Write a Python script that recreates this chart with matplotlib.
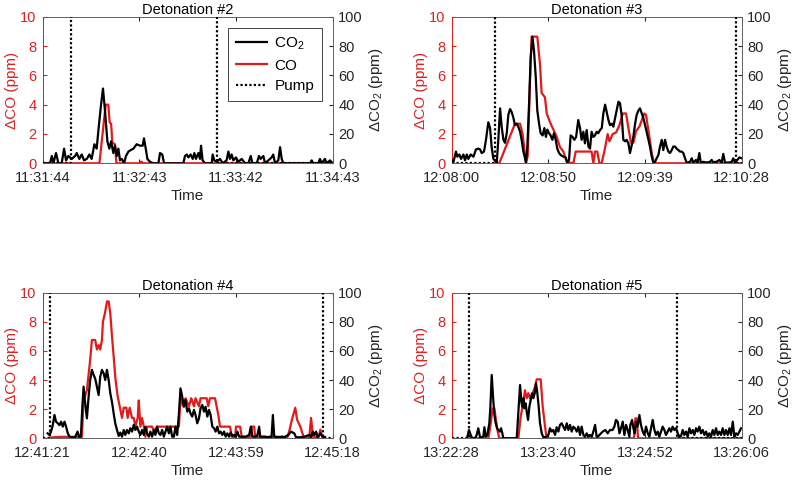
import matplotlib
matplotlib.use('Agg')
import matplotlib.pyplot as plt
from matplotlib.lines import Line2D

plt.rcParams['font.family'] = ['Liberation Sans', 'DejaVu Sans']
plt.rcParams['mathtext.fontset'] = 'custom'
plt.rcParams['mathtext.rm'] = 'Liberation Sans'
plt.rcParams['mathtext.it'] = 'Liberation Sans:italic'

# ---------------- data (time in seconds from window start) ----------------
titles = ['Detonation #2', 'Detonation #3', 'Detonation #4', 'Detonation #5']
durations = [179, 148, 237, 218]
tick_labels = [
    ['11:31:44', '11:32:43', '11:33:42', '11:34:43'],
    ['12:08:00', '12:08:50', '12:09:39', '12:10:28'],
    ['12:41:21', '12:42:40', '12:43:59', '12:45:18'],
    ['13:22:28', '13:23:40', '13:24:52', '13:26:06'],
]
pump_times = [(17.3, 107.6), (22.1, 144.9), (6.0, 228.8), (13.3, 169.2)]

det2_co2 = [(0, 0), (4.5, 0), (5.6, 5), (6.6, 0), (8.2, 7), (9.7, 0), (11.7, 0), (13.2, 10), (14.4, 2),
            (15.8, 5), (17.9, 3), (20.0, 5), (21.0, 7), (22.6, 3), (24.1, 6), (25.5, 2), (27.2, 3),
            (28.8, 6), (30.2, 3), (31.9, 13), (33.3, 10), (34.6, 25), (36.0, 40), (37.2, 51), (38.5, 35),
            (39.9, 15), (41.1, 10), (42.2, 15), (43.6, 7), (44.6, 12), (45.7, 5), (46.7, 10), (47.7, 2),
            (48.8, 3), (50.2, 0), (51.4, 5), (52.9, 8), (54.3, 9), (56.0, 10), (58.0, 13), (60.1, 12),
            (61.7, 12), (62.5, 17), (63.6, 10), (64.6, 3), (66.2, 1), (68.3, 0), (71.4, 0), (72.4, 7),
            (73.8, 6), (74.9, 0), (86.8, 0), (87.8, 5), (88.9, 6), (89.9, 4), (91.3, 6), (92.6, 3),
            (93.6, 7), (94.6, 3), (96.1, 7), (97.1, 3), (97.7, 12), (98.7, 2), (100.2, 0), (104.3, 0),
            (104.9, 6), (105.9, 2), (107.4, 1), (109.4, 3), (111.1, 0), (113.5, 2), (114.6, 8), (115.6, 3),
            (116.6, 6), (117.7, 2), (119.3, 4), (120.7, 1), (122.8, 3), (124.9, 0), (126.9, 0), (128.4, 5),
            (129.4, 0), (132.1, 0), (133.5, 5), (134.5, 3), (136.2, 5), (137.2, 0), (140.3, 3), (141.3, 4),
            (142.3, 6), (143.4, 0), (145.4, 2), (146.5, 11), (147.5, 3), (148.5, 0), (165.0, 0), (166.0, 2),
            (167.0, 0), (170.1, 0), (171.1, 3), (172.2, 0), (174.2, 3), (175.3, 0), (177.3, 2), (179.0, 0)]
det2_co = [(0, 0), (35.0, 0), (37.9, 3.0), (38.9, 4.0), (40.5, 4.0), (41.3, 2.8), (42.2, 2.7), (43.0, 1.4),
           (44.6, 1.3), (45.5, 0), (60.1, 0), (60.5, 0.1), (61.3, 0.1), (61.7, 0), (179, 0)]

det3_co2 = [(0, 2.3), (0.9, 1), (2.2, 8), (2.9, 4.5), (3.9, 6), (4.8, 3), (6.0, 6), (6.8, 2), (7.7, 6),
            (8.5, 3), (9.7, 6), (11.1, 4.5), (12.4, 9.5), (13.6, 10), (14.5, 9.5), (15.3, 7), (16.5, 8),
            (17.5, 16), (18.7, 28), (19.6, 24), (20.4, 11), (21.3, 3), (22.1, 2), (23.0, 0.5), (23.8, 16),
            (24.7, 37.5), (25.5, 25), (26.4, 16), (27.2, 14), (28.1, 20.5), (28.9, 33), (29.8, 37),
            (30.6, 35), (31.5, 31), (32.3, 26), (33.2, 27), (34.0, 25), (34.9, 21.5), (35.7, 16), (36.6, 8),
            (37.9, 0.7), (38.6, 11), (39.5, 41), (40.3, 71.6), (41.2, 86.4), (42.0, 77), (42.9, 59),
            (43.7, 36), (44.6, 27), (45.4, 20.5), (46.4, 19), (47.3, 24), (48.1, 18), (48.8, 23),
            (49.7, 20.5), (50.5, 19), (51.4, 16), (52.2, 20.5), (53.1, 16), (53.9, 10), (54.8, 7),
            (55.6, 5.7), (57.0, 4.5), (58.2, 4), (59.0, 0.5), (59.9, 2.3), (60.7, 19), (61.7, 18),
            (62.6, 16), (63.5, 18), (64.6, 29.5), (65.5, 24), (66.3, 16), (67.2, 21.5), (68.0, 13.6),
            (68.9, 22.7), (69.8, 11.4), (70.6, 10), (71.4, 21.5), (72.3, 18), (73.1, 19), (74.0, 21.5),
            (74.8, 20.5), (75.7, 22.7), (76.6, 24), (77.4, 34), (78.3, 40), (79.1, 35), (80.0, 29.5),
            (80.8, 26), (81.7, 27), (82.5, 25), (83.4, 31), (84.2, 36), (85.1, 42), (85.9, 41), (86.8, 32),
            (87.6, 16), (88.5, 15), (89.3, 16), (90.2, 13.6), (91.0, 7), (91.9, 12.5), (92.7, 18),
            (93.6, 27), (94.4, 33), (95.3, 36), (96.1, 37.5), (97.0, 34), (97.8, 31), (98.7, 26),
            (99.5, 21.5), (100.4, 16), (101.2, 11.4), (102.1, 4.5), (102.9, 0.5), (103.8, 1), (104.6, 3.4),
            (105.5, 5.7), (106.3, 11.4), (107.2, 16), (108.0, 9), (108.9, 16), (109.7, 11.4), (110.6, 8),
            (111.4, 7), (112.3, 9), (113.1, 11.4), (114.0, 11.4), (114.8, 10), (115.7, 9), (116.5, 8),
            (117.4, 8), (118.2, 7), (119.1, 3.4), (119.9, 0.5), (121.6, 1), (122.5, 3.4), (123.3, 0.5),
            (124.7, 2.3), (125.5, 0.5), (126.4, 7), (127.1, 0.5), (128.4, 1), (130.1, 0.5), (131.8, 1),
            (132.7, 2.3), (133.5, 0.5), (134.4, 1), (135.2, 1), (136.6, 2.3), (137.8, 0.5), (138.6, 6.4),
            (139.5, 0.5), (141.2, 0.5), (142.9, 1), (143.7, 3.4), (144.6, 0.5), (145.8, 2.3), (146.8, 4),
            (148.0, 3.4)]
det3_co = [(22.1, 0), (24.3, 0), (32.3, 2.7), (34.9, 2.7), (36.2, 2.0), (37.9, 0), (38.8, 0.5), (40.3, 7.0),
           (40.8, 8.64), (43.7, 8.64), (45.1, 6.7), (45.9, 4.8), (47.6, 4.5), (48.5, 3.4), (50.2, 2.8),
           (51.9, 2.3), (53.6, 1.8), (55.3, 1.1), (57.0, 0.8), (58.7, 0.1), (62.1, 0), (63.3, 0.8),
           (71.4, 0.8), (72.3, 0), (73.1, 0.8), (74.3, 0.8), (75.4, 0), (76.5, 0), (77.9, 0.8), (79.6, 2.0),
           (80.5, 1.5), (82.2, 2.0), (83.9, 2.1), (85.6, 2.6), (87.3, 3.4), (89.0, 3.4), (90.2, 2.4),
           (91.5, 1.4), (92.7, 1.4), (94.1, 2.2), (95.8, 2.5), (98.3, 3.4), (99.2, 3.3), (100.9, 1.8),
           (102.2, 0.6), (103.4, 0), (148, 0)]

det4_co2 = [(4.0, 3.4), (5.5, 2.3), (6.8, 4.6), (8.2, 9), (9.6, 16), (10.9, 11.4), (12.3, 10.3), (13.7, 9),
            (15.0, 11.4), (16.4, 8), (17.8, 11.4), (19.1, 8), (20.5, 3.4), (21.9, 1.1), (23.8, 0.7),
            (26.5, 0.7), (28.4, 4.6), (29.8, 1.1), (31.2, 1.1), (32.3, 20.6), (33.4, 35.5), (34.7, 24),
            (36.1, 13.7), (37.5, 28.6), (38.8, 40), (40.2, 47), (41.6, 43.5), (42.9, 41), (44.3, 35.5),
            (45.7, 29.7), (47.0, 42.3), (48.4, 47), (49.8, 44.6), (51.1, 40), (52.5, 47), (53.9, 40),
            (55.2, 31), (56.6, 25), (58.0, 17), (59.3, 10.3), (60.7, 5.7), (62.1, 1.6), (63.4, 3.9),
            (64.8, 1.1), (66.2, 5.7), (67.5, 2.3), (68.9, 5.7), (70.3, 3.4), (71.6, 6.9), (73.0, 4.6),
            (74.4, 9.2), (75.7, 5.7), (77.1, 8), (78.5, 4.6), (79.8, 2.3), (81.2, 5.7), (82.6, 2.3),
            (83.9, 8), (85.3, 3.4), (86.7, 1.1), (88.0, 4.6), (89.4, 1.1), (90.8, 5.7), (92.1, 2.3),
            (93.5, 8), (94.9, 3.4), (96.2, 2.3), (97.6, 5.7), (99.0, 1.1), (100.3, 4.6), (101.7, 8),
            (103.1, 3.4), (104.4, 8), (105.8, 1.1), (107.2, 1.1), (108.5, 8), (109.9, 2.3), (111.3, 17),
            (112.6, 34.3), (114.0, 28.6), (115.4, 21.7), (116.7, 26.3), (118.1, 18.3), (119.5, 20.6),
            (120.8, 17), (122.2, 14.9), (123.6, 19.5), (124.9, 16), (126.3, 10.3), (127.7, 13.7),
            (129.0, 20.6), (130.4, 22.9), (131.8, 18.3), (133.1, 21.7), (134.5, 14.9), (135.9, 19.5),
            (137.2, 16), (138.6, 8), (140.0, 6.9), (141.3, 4.6), (142.7, 8), (144.1, 3.4), (145.4, 4.6),
            (146.8, 2.3), (148.2, 4.6), (149.5, 1.1), (150.9, 3.4), (152.3, 1.1), (153.6, 3.9), (155.0, 1.6),
            (156.4, 2.3), (157.8, 1.1), (159.1, 4.6), (160.5, 1.1), (163.2, 1.1), (166.0, 1.1), (168.7, 2.3),
            (170.1, 8), (171.4, 1.1), (174.2, 1.1), (175.5, 2.3), (176.9, 8), (177.7, 1.1), (181.0, 1.1),
            (183.7, 0.7), (187.0, 1.1), (188.1, 16), (189.2, 1.1), (193.3, 0.7), (196.0, 1.1), (197.4, 0.7),
            (200.7, 2.3), (202.9, 4.6), (205.6, 3.4), (207.0, 0.7), (211.1, 0.7), (213.8, 1.1), (217.9, 2.3),
            (219.3, 0.7), (220.6, 4.6), (222.0, 2.3), (223.4, 4.6), (224.7, 0.7), (226.9, 3.4), (228.8, 1.1),
            (230.7, 0.7)]
det4_co = [(6.0, 0.05), (14.2, 0.1), (32.0, 0.1), (33.4, 2.6), (36.1, 3.3), (38.8, 5.4), (40.2, 6.75),
           (42.9, 6.75), (44.3, 6.1), (45.7, 6.4), (47.0, 6.1), (48.4, 6.75), (49.2, 8.0), (51.1, 8.7),
           (52.5, 9.4), (53.9, 9.4), (55.2, 8.6), (56.6, 7.0), (58.0, 5.6), (59.3, 4.2), (61.2, 2.9),
           (62.9, 2.2), (64.8, 1.4), (66.2, 2.1), (68.4, 2.1), (69.4, 1.4), (71.1, 2.1), (73.0, 1.4),
           (74.4, 1.4), (75.7, 0.8), (77.6, 1.4), (78.5, 2.6), (79.8, 0.8), (81.2, 1.4), (82.6, 0.8),
           (83.9, 0.1), (85.3, 0.8), (89.4, 0.8), (90.8, 0.5), (93.5, 0.8), (109.9, 0.8), (111.3, 0.8),
           (112.6, 2.75), (114.8, 2.2), (116.7, 2.75), (119.5, 2.2), (121.4, 2.75), (123.6, 2.2),
           (124.9, 2.75), (127.7, 2.2), (129.0, 2.75), (134.0, 2.75), (135.3, 2.2), (136.7, 2.75),
           (140.8, 2.75), (143.5, 1.6), (144.9, 0.8), (153.1, 0.8), (154.5, 0.1), (157.2, 0.1), (158.0, 0.8),
           (161.3, 0.8), (162.7, 0.1), (170.1, 0.1), (170.9, 0.8), (172.8, 0.8), (173.6, 0.1), (200.1, 0.1),
           (201.8, 0.6), (203.7, 1.3), (206.4, 2.1), (207.8, 1.3), (210.5, 0.8), (213.2, 0.1), (217.9, 0.1),
           (219.3, 1.4), (220.9, 0.1), (225.6, 0.1), (226.9, 0.6), (228.3, 0.1), (230.2, 0.1)]

det5_co2 = [(11.3, 0), (11.8, 1.1), (13.0, 5.7), (14.3, 2.3), (15.5, 0), (17.5, 0), (18.8, 2.3), (20.0, 6.9),
            (21.3, 0.7), (23.8, 1.1), (24.6, 7.6), (25.6, 1.1), (26.8, 2.3), (28.3, 10.3), (29.1, 21.7),
            (30.1, 43.5), (31.1, 28.6), (32.1, 16), (33.1, 10.3), (34.1, 6.9), (35.1, 5.7), (36.3, 4.6),
            (37.1, 6.9), (38.1, 3.4), (38.8, 0), (48.9, 0), (50.1, 17), (51.4, 36.6), (52.4, 25),
            (53.1, 21.7), (53.9, 27.5), (54.6, 20.6), (55.6, 24), (56.4, 18.3), (57.4, 12.6), (58.4, 21.7),
            (59.4, 26.3), (60.4, 30.9), (61.4, 27.5), (62.4, 30.9), (63.4, 37.8), (64.4, 30.9), (65.4, 21.7),
            (66.4, 10.3), (67.7, 3.4), (68.9, 0.7), (71.4, 1.1), (72.7, 2.3), (73.9, 6.9), (75.2, 4.6),
            (76.4, 5.7), (77.7, 2.3), (78.9, 7.6), (80.2, 4.6), (81.4, 9.2), (82.7, 10.3), (83.9, 8),
            (85.2, 5.7), (86.5, 10.3), (87.7, 5.7), (89.0, 9.2), (90.2, 4.6), (91.5, 8), (92.7, 6.9),
            (94.0, 4.6), (95.2, 8), (96.5, 2.3), (97.7, 8), (99.0, 2.3), (100.2, 1.1), (101.5, 3.4),
            (102.7, 1.1), (104.0, 2.3), (105.3, 1.1), (106.5, 4.6), (107.8, 9.2), (109.0, 1.1), (109.8, 1.1),
            (113.5, 4.6), (115.5, 5.7), (117.3, 3.4), (119.0, 5.7), (121.0, 5.7), (122.3, 8), (123.5, 12.6),
            (124.8, 11.4), (126.1, 3.4), (127.3, 6.9), (128.6, 11.4), (129.8, 2.3), (131.1, 9.2),
            (132.3, 5.7), (133.6, 1.1), (134.3, 9.2), (135.6, 12.6), (136.6, 6.9), (137.6, 3.4),
            (138.6, 11.4), (139.8, 8), (141.1, 16), (142.3, 9.2), (143.6, 4.6), (144.8, 2.3), (146.1, 8),
            (147.4, 3.4), (148.6, 1.1), (149.9, 6.9), (151.1, 12.6), (152.4, 5.7), (153.6, 2.3), (154.9, 4.6),
            (156.1, 1.1), (157.4, 4.6), (158.6, 8), (159.9, 5.7), (161.1, 2.3), (162.4, 4.6), (163.6, 6.9),
            (164.9, 4.6), (166.1, 8), (167.4, 5.7), (168.7, 6.9), (169.9, 3.4), (171.2, 1.1), (172.4, 1.6),
            (173.7, 5.7), (174.9, 2.3), (176.2, 4.6), (177.4, 1.1), (178.7, 6.9), (179.9, 3.4), (181.2, 5.7),
            (182.4, 2.3), (183.7, 6.9), (184.9, 4.6), (186.2, 8), (187.4, 3.4), (188.7, 5.7), (190.0, 2.3),
            (191.2, 4.6), (192.5, 1.1), (193.7, 3.4), (195.0, 1.1), (196.2, 5.7), (197.5, 2.3), (198.7, 6.9),
            (200.0, 2.3), (201.2, 4.6), (202.5, 2.3), (203.7, 6.9), (205.0, 2.3), (206.2, 5.7), (207.5, 2.3),
            (208.8, 6.9), (210.0, 2.3), (211.3, 11.4), (212.5, 1.1), (213.8, 3.4), (215.0, 2.3), (216.3, 4.6),
            (217.5, 6.9)]
det5_co = [(13.3, 0), (27.6, 0), (29.3, 1.0), (30.8, 2.06), (32.1, 2.06), (33.3, 1.26), (34.6, 0.46),
           (35.8, 0), (50.1, 0), (51.9, 1.5), (53.9, 2.5), (55.1, 3.3), (56.4, 2.75), (57.6, 3.1),
           (58.9, 2.75), (60.9, 3.1), (62.7, 3.55), (63.9, 4.05), (66.9, 4.05), (68.4, 2.2), (70.2, 0.8),
           (71.4, 0), (137.1, 0), (138.1, 1.37), (139.1, 1.37), (140.1, 0), (218, 0)]

co2_series = [det2_co2, det3_co2, det4_co2, det5_co2]
co_series = [det2_co, det3_co, det4_co, det5_co]

# ---------------- style ----------------
RED = '#e31a1a'
RED_TXT = '#dd2222'
DARK = '#262626'
FS = 10.5

positions = [[0.0534, 0.6598, 0.3625, 0.3054],
             [0.5646, 0.6598, 0.3625, 0.3054],
             [0.0534, 0.0869, 0.3625, 0.3033],
             [0.5646, 0.0869, 0.3625, 0.3033]]

fig = plt.figure(figsize=(8, 4.8), dpi=100)

for i in range(4):
    T = durations[i]
    ax = fig.add_axes(positions[i])
    co_t, co_v = zip(*co_series[i])
    ax.plot(co_t, co_v, color=RED, lw=1.6, zorder=2)
    ax.set_xlim(0, T)
    ax.set_ylim(0, 10)
    ax.set_yticks([0, 2, 4, 6, 8, 10])
    ax.set_xticks([T * k / 3 for k in range(4)])
    ax.set_xticklabels(tick_labels[i])
    ax.tick_params(axis='x', direction='in', length=3, top=True, labelsize=FS, colors=DARK, pad=5.5)
    ax.tick_params(axis='y', direction='in', length=3, right=False, labelsize=FS, colors=RED_TXT, pad=4.5)
    ax.set_ylabel('ΔCO (ppm)', color=RED_TXT, fontsize=FS + 0.5, labelpad=1)
    ax.set_xlabel('Time', color=DARK, fontsize=FS + 0.5, labelpad=3)
    ax.set_title(titles[i], fontsize=FS, color='black', pad=2)
    for s in ['top', 'bottom', 'right']:
        ax.spines[s].set_color('#606060')
        ax.spines[s].set_linewidth(0.6)
    ax.spines['left'].set_color(RED)
    ax.spines['left'].set_linewidth(0.6)

    ax2 = ax.twinx()
    c_t, c_v = zip(*co2_series[i])
    ax2.plot(c_t, c_v, color='black', lw=1.6, zorder=3)
    p_on, p_off = pump_times[i]
    ax2.plot([0, p_on, p_on, p_off, p_off, T], [0, 0, 1000, 1000, 0, 0],
             color='black', ls=(0, (1, 1)), lw=1.6, zorder=3)
    ax2.set_ylim(0, 100)
    ax2.set_xlim(0, T)
    ax2.set_yticks([0, 20, 40, 60, 80, 100])
    ax2.tick_params(axis='y', direction='in', length=3, labelsize=FS, colors=DARK, pad=4)
    ax2.set_ylabel('ΔCO$_2$ (ppm)', color=DARK, fontsize=FS + 0.5, labelpad=3)
    for s in ['top', 'bottom', 'right']:
        ax2.spines[s].set_color('#606060')
        ax2.spines[s].set_linewidth(0.6)
    ax2.spines['left'].set_color(RED)
    ax2.spines['left'].set_linewidth(0.6)

    if i == 0:
        handles = [Line2D([], [], color='black', lw=1.6),
                   Line2D([], [], color=RED, lw=1.6),
                   Line2D([], [], color='black', lw=1.6, ls=(0, (1, 1)))]
        leg = ax2.legend(handles, ['CO$_2$', 'CO', 'Pump'], loc='upper right',
                         bbox_to_anchor=(0.962, 0.925), borderaxespad=0, fancybox=False,
                         edgecolor=DARK, framealpha=1, fontsize=FS + 0.5, handlelength=2.0,
                         labelspacing=0.45, borderpad=0.5, handletextpad=0.5)
        leg.get_frame().set_linewidth(0.6)

fig.savefig('out.png', dpi=100)
